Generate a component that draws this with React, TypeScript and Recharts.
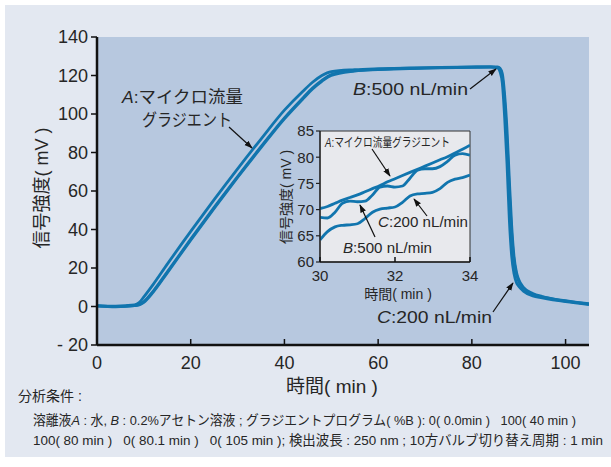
import { LineChart, Line, XAxis, YAxis, CartesianGrid, ReferenceArea } from 'recharts';

// Full run: 0–105 min, three flow modes
const TIME = [0, 4, 8, 9, 10, 12, 15, 20, 25, 30, 35, 40, 44, 46, 48, 50, 55, 60, 70, 80, 84, 85.5, 86, 86.5, 87, 87.5, 88, 88.5, 89, 89.5, 90, 91, 93, 95, 100, 105];
const SIGNAL_A = [0.5, 0.2, 0.8, 2, 5, 11.5, 22, 39, 55.5, 71.5, 87, 102, 112, 116.5, 120, 122, 123, 123.5, 124, 124.5, 124.5, 124, 122, 116, 98, 74, 45, 26, 17, 12.5, 10.5, 8, 5.5, 4.5, 2.5, 1];
const SIGNAL_B = [0.3, 0, 0.5, 1, 2.5, 8, 18, 35, 51.5, 67.5, 83, 98, 108.5, 113.5, 117.5, 120.5, 122.5, 123, 123.8, 124.2, 124.3, 124.5, 123.8, 121, 110, 92, 66, 42, 26, 18, 14, 10, 6.8, 5.2, 3, 1.2];
const SIGNAL_C = [0.2, -0.2, 0.4, 0.8, 2.2, 7.5, 17.5, 34.5, 51, 67, 82.5, 97.5, 108, 113, 117, 120, 122.3, 123.2, 124, 124.4, 124.5, 124.2, 123.2, 119, 106, 86, 60, 38, 24, 17, 13, 9.5, 6.3, 5, 2.8, 1.5];

// Close-up: 30–34 min
const ZOOM_TIME = [30, 30.2, 30.4, 30.6, 30.8, 31, 31.2, 31.4, 31.6, 31.8, 32, 32.2, 32.4, 32.6, 32.8, 33, 33.2, 33.4, 33.6, 33.8, 34];
const ZOOM_A = [70.2, 70.6, 71.2, 71.8, 72.3, 72.8, 73.4, 74.0, 74.6, 75.3, 75.9, 76.5, 77.1, 77.7, 78.3, 78.9, 79.5, 80.1, 80.8, 81.5, 82.3];
const ZOOM_B = [68.5, 68.4, 69.5, 71.2, 71.6, 71.5, 71.6, 72.8, 74.3, 74.5, 74.3, 74.5, 76.0, 77.5, 77.8, 77.8, 78.2, 79.2, 80.4, 80.7, 80.4];
const ZOOM_C = [64.2, 65.8, 66.7, 67.0, 67.1, 67.3, 68.3, 69.5, 70.1, 70.3, 70.5, 71.4, 72.6, 73.0, 73.1, 73.3, 74.0, 75.2, 75.8, 76.1, 76.6];

const MAIN_X_TICKS = [0, 20, 40, 60, 80, 100];
const MAIN_Y_TICKS = [-20, 0, 20, 40, 60, 80, 100, 120, 140];
const ZOOM_X_TICKS = [30, 32, 34];
const ZOOM_Y_TICKS = [60, 65, 70, 75, 80, 85];

const FONT = "'Liberation Sans', Arial, 'Noto Sans CJK JP', sans-serif";
const INK = '#262626';
const TRACE = '#1175ae';

const mainData = TIME.map((t, i) => ({ t, a: SIGNAL_A[i], b: SIGNAL_B[i], c: SIGNAL_C[i] }));
const zoomData = ZOOM_TIME.map((t, i) => ({ t, a: ZOOM_A[i], b: ZOOM_B[i], c: ZOOM_C[i] }));

// bottom ticks point into the plot, label sits below the axis
function makeInwardTick(len: number, gap: number, size: number) {
  return (props: any) => {
    const { x, y, payload } = props;
    return (
      <g>
        <line x1={x} x2={x} y1={y} y2={y - len} stroke="#111" strokeWidth={1.5} />
        <text x={x} y={y + gap} textAnchor="middle" dominantBaseline="central" fill={INK} fontSize={size} fontFamily={FONT}>
          {payload.value}
        </text>
      </g>
    );
  };
}

const minusLabel = (v: number) => (v < 0 ? `- ${Math.abs(v)}` : `${v}`);

function Arrow({ x1, y1, x2, y2 }: { x1: number; y1: number; x2: number; y2: number }) {
  return <line x1={x1} y1={y1} x2={x2} y2={y2} stroke="#111" strokeWidth={1.2} markerEnd="url(#head)" />;
}

export default function App() {
  return (
    <div style={{ position: 'absolute', left: 0, top: 0, width: 611, height: 467, background: '#fff', overflow: 'hidden' }}>
      <div style={{ position: 'absolute', left: 5, top: 5, width: 606, height: 452, background: '#e3e8f1' }} />

      <div style={{ position: 'absolute', left: 0, top: 0 }}>
        <LineChart width={611} height={467} data={mainData} margin={{ top: 37, right: 22, bottom: 92, left: 37 }}>
          <CartesianGrid fill="#b7c8df" horizontal={false} vertical={false} />
          <XAxis
            dataKey="t"
            type="number"
            domain={[0, 105]}
            ticks={MAIN_X_TICKS}
            interval={0}
            allowDataOverflow
            axisLine={{ stroke: '#111', strokeWidth: 2.5 }}
            tickLine={false}
            tickSize={0}
            tickMargin={0}
            tick={makeInwardTick(6, 18, 18)}
          />
          <YAxis
            type="number"
            width={60}
            domain={[-20, 140]}
            ticks={MAIN_Y_TICKS}
            interval={0}
            allowDataOverflow
            axisLine={{ stroke: '#111', strokeWidth: 2.5 }}
            tickLine={{ stroke: '#111', strokeWidth: 1.5 }}
            tickSize={6}
            tickMargin={3}
            tickFormatter={minusLabel}
            tick={{ fill: INK, fontSize: 18, fontFamily: FONT }}
          />
          <Line type="monotone" dataKey="a" stroke={TRACE} strokeWidth={2.8} dot={false} isAnimationActive={false} />
          <Line type="monotone" dataKey="b" stroke={TRACE} strokeWidth={2.8} dot={false} isAnimationActive={false} />
          <Line type="monotone" dataKey="c" stroke={TRACE} strokeWidth={2.8} dot={false} isAnimationActive={false} />
        </LineChart>
      </div>

      <div style={{ position: 'absolute', left: 0, top: 0 }}>
        <LineChart width={611} height={467} data={zoomData} margin={{ top: 131, right: 141, bottom: 180, left: 290 }}>
          <CartesianGrid fill="#e8e9ed" horizontal={false} vertical={false} />
          <XAxis
            dataKey="t"
            type="number"
            height={25}
            domain={[30, 34]}
            ticks={ZOOM_X_TICKS}
            interval={0}
            allowDataOverflow
            axisLine={{ stroke: '#222', strokeWidth: 1.3 }}
            tickLine={false}
            tickSize={0}
            tickMargin={0}
            tick={makeInwardTick(5, 13, 15)}
          />
          <YAxis
            type="number"
            width={30}
            domain={[60, 85]}
            ticks={ZOOM_Y_TICKS}
            interval={0}
            allowDataOverflow
            axisLine={{ stroke: '#222', strokeWidth: 1.3 }}
            tickLine={{ stroke: '#222', strokeWidth: 1.2 }}
            tickSize={4}
            tickMargin={2}
            tick={{ fill: INK, fontSize: 15, fontFamily: FONT }}
          />
          <Line type="monotone" dataKey="a" stroke={TRACE} strokeWidth={2.8} dot={false} isAnimationActive={false} />
          <Line type="monotone" dataKey="b" stroke={TRACE} strokeWidth={2.8} dot={false} isAnimationActive={false} />
          <Line type="monotone" dataKey="c" stroke={TRACE} strokeWidth={2.8} dot={false} isAnimationActive={false} />
          <ReferenceArea x1={30} x2={34} y1={60} y2={85} fill="none" stroke="#333" strokeWidth={1} ifOverflow="visible" />
        </LineChart>
      </div>

      <svg width={611} height={467} style={{ position: 'absolute', left: 0, top: 0, pointerEvents: 'none' }} fontFamily={FONT} fill={INK}>
        <defs>
          <marker id="head" viewBox="0 0 10 10" refX="9" refY="5" markerWidth="7" markerHeight="7" orient="auto">
            <path d="M0,1.5 L10,5 L0,8.5 Z" fill="#111" />
          </marker>
        </defs>

        {/* axis titles */}
        <text x={332} y={386} fontSize={19} textAnchor="middle" dominantBaseline="central">時間( min )</text>
        <text x={42} y={188} fontSize={18} textAnchor="middle" dominantBaseline="central" transform="rotate(-90 42 188)">信号強度( mV )</text>
        <text x={398} y={294} fontSize={14} textAnchor="middle" dominantBaseline="central">時間( min )</text>
        <text x={286} y={197} fontSize={14} textAnchor="middle" dominantBaseline="central" transform="rotate(-90 286 197)">信号強度( mV )</text>

        {/* trace labels, full run */}
        <text x={122} y={97} fontSize={17} dominantBaseline="central" textLength={121} lengthAdjust="spacingAndGlyphs">
          <tspan fontStyle="italic">A</tspan>:マイクロ流量
        </text>
        <text x={142} y={120} fontSize={17} dominantBaseline="central" textLength={90} lengthAdjust="spacingAndGlyphs">グラジエント</text>
        <Arrow x1={229} y1={127} x2={252} y2={148} />
        <text x={353} y={89} fontSize={17} dominantBaseline="central" textLength={115} lengthAdjust="spacingAndGlyphs">
          <tspan fontStyle="italic">B</tspan>:500 nL/min
        </text>
        <Arrow x1={470} y1={89} x2={496} y2={69} />
        <text x={377} y={317} fontSize={17} dominantBaseline="central" textLength={115} lengthAdjust="spacingAndGlyphs">
          <tspan fontStyle="italic">C</tspan>:200 nL/min
        </text>
        <Arrow x1={493} y1={312} x2={513} y2={283} />

        {/* trace labels, close-up */}
        <text x={325} y={143} fontSize={12.5} dominantBaseline="central" textLength={125} lengthAdjust="spacingAndGlyphs">
          <tspan fontStyle="italic">A</tspan>:マイクロ流量グラジエント
        </text>
        <Arrow x1={372} y1={149} x2={390} y2={176} />
        <text x={378} y={222} fontSize={14} dominantBaseline="central" textLength={90} lengthAdjust="spacingAndGlyphs">
          <tspan fontStyle="italic">C</tspan>:200 nL/min
        </text>
        <Arrow x1={427} y1={216} x2={414} y2={199} />
        <text x={343} y={248} fontSize={14} dominantBaseline="central" textLength={89} lengthAdjust="spacingAndGlyphs">
          <tspan fontStyle="italic">B</tspan>:500 nL/min
        </text>
        <Arrow x1={375} y1={237} x2={360} y2={205} />

        {/* conditions */}
        <text x={18} y={396} fontSize={14} dominantBaseline="central">分析条件 :</text>
        <text x={33} y={420} fontSize={13.5} dominantBaseline="central" textLength={543} lengthAdjust="spacingAndGlyphs" style={{ whiteSpace: 'pre' }}>
          溶離液<tspan fontStyle="italic">A</tspan> : 水, <tspan fontStyle="italic">B</tspan> : 0.2%アセトン溶液 ; グラジエントプログラム( %B ): 0( 0.0min )   100( 40 min )
        </text>
        <text x={33} y={440} fontSize={13.5} dominantBaseline="central" textLength={570} lengthAdjust="spacingAndGlyphs" style={{ whiteSpace: 'pre' }}>
          100( 80 min )   0( 80.1 min )   0( 105 min ); 検出波長 : 250 nm ; 10方バルブ切り替え周期 : 1 min
        </text>
      </svg>
    </div>
  );
}
